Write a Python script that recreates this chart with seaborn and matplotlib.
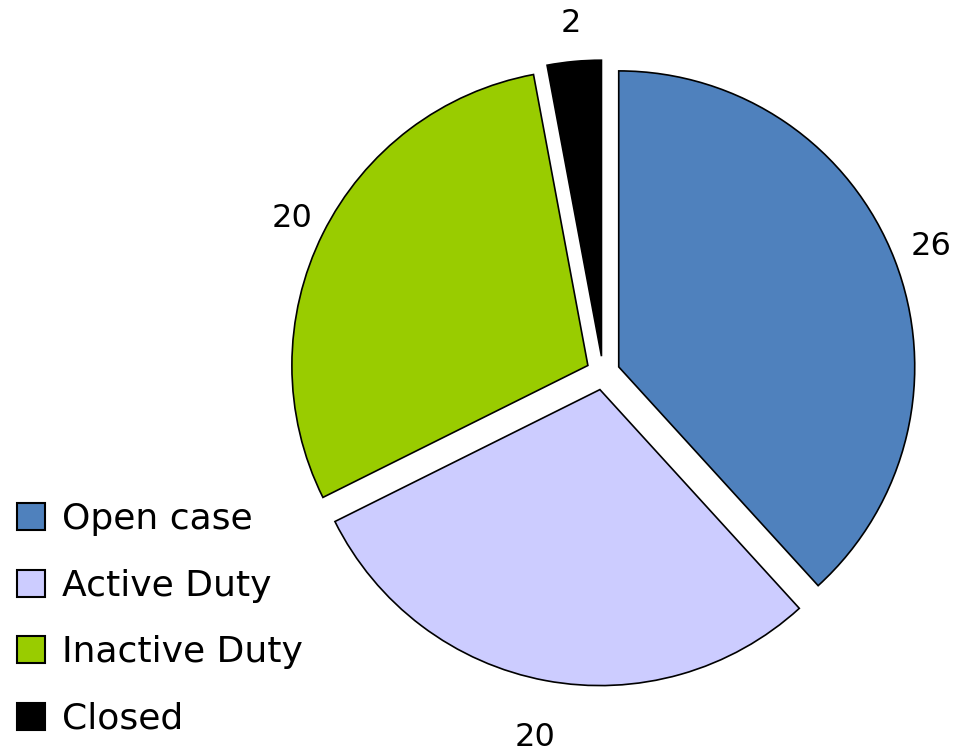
import numpy as np
import matplotlib
matplotlib.use("Agg")
import matplotlib.pyplot as plt
import seaborn as sns
from matplotlib.patches import Patch

sns.set_style("white")
plt.rcParams['font.family'] = ['DejaVu Sans']
plt.rcParams['text.color'] = 'black'

categories = ["Open case", "Active Duty", "Inactive Duty", "Closed"]
values = [26, 20, 20, 2]
colors = ["#4F81BD", "#CCCCFF", "#99CC00", "#000000"]
explode = [0.057, 0.057, 0.057, 0.057]
label_dist = [1.13, 1.195, 1.115, 1.13]

W, H = 971, 754
cx, cy, R = 603, 373, 296

fig = plt.figure(figsize=(W / 100, H / 100), dpi=100)
ax = fig.add_axes([0, 0, 1, 1])

wedges, texts = ax.pie(values, colors=colors, explode=explode, startangle=90,
                       counterclock=False, labels=[str(v) for v in values],
                       labeldistance=1.15,
                       wedgeprops=dict(edgecolor="black", linewidth=1.2),
                       textprops=dict(fontsize=23, color="black"))

# place labels centered at per-slice distances along each wedge bisector
for w, t, e, ld in zip(wedges, texts, explode, label_dist):
    ang = np.deg2rad((w.theta1 + w.theta2) / 2)
    r = e + ld
    t.set_position((r * np.cos(ang), r * np.sin(ang)))
    t.set_ha("center")
    t.set_va("center")

ax.set_xlim(-cx / R, (W - cx) / R)
ax.set_ylim(-(H - cy) / R, cy / R)
ax.set_aspect("equal", adjustable="box")
ax.axis("off")

handles = [Patch(facecolor=c, edgecolor="black", linewidth=1.5) for c in colors]
fig.legend(handles, categories, loc="lower left", bbox_to_anchor=(0.0175, 0.024),
           frameon=False, fontsize=26, labelcolor="black",
           handlelength=0.77, handleheight=0.77,
           handletextpad=0.47, labelspacing=0.9, borderpad=0, borderaxespad=0)

fig.savefig("out.png", dpi=100)
